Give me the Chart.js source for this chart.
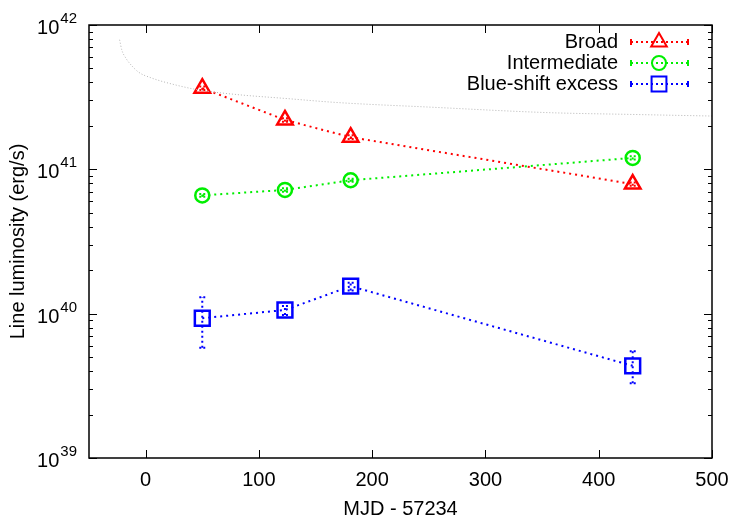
<!DOCTYPE html>
<html>
<head>
<meta charset="utf-8">
<script src="https://cdn.jsdelivr.net/npm/chart.js"></script>
<style>
  body { margin: 0; background: #fff; }
  canvas { display: block; }
</style>
</head>
<body>
<canvas id="lumChart" width="750" height="525"></canvas>
<script>
// Epochs (MJD - 57234)
const mjd = [50, 123, 181, 430];

// Line luminosities (erg/s) and error ranges
const broad = [3.65e41, 2.2e41, 1.67e41, 7.9e40];
const broadLo = [3.55e41, 2.14e41, 1.62e41, 7.7e40];
const broadHi = [3.75e41, 2.26e41, 1.72e41, 8.1e40];

const intermediate = [6.6e40, 7.2e40, 8.4e40, 1.2e41];
const interLo = [6.45e40, 7.0e40, 8.2e40, 1.17e41];
const interHi = [6.75e40, 7.4e40, 8.6e40, 1.23e41];

const blueShift = [9.3e39, 1.06e40, 1.55e40, 4.35e39];
const blueLo = [5.8e39, 9.8e39, 1.45e40, 3.3e39];
const blueHi = [1.3e40, 1.13e40, 1.64e40, 5.5e39];

// Grey dotted reference curve
const refX = [-23, -21, -17.5, -13, -6, 5, 26, 47, 80, 123, 170, 250, 356, 430, 500];
const refY = [7.9e41, 6.7e41, 5.9e41, 5.3e41, 4.7e41, 4.3e41, 3.85e41, 3.55e41, 3.3e41, 3.1e41, 2.9e41, 2.7e41, 2.47e41, 2.4e41, 2.34e41];

// Tick labels
const xTicks = [0, 100, 200, 300, 400, 500];
const yDecades = [39, 40, 41, 42];

const FONT = '"Liberation Sans", Arial, Helvetica, sans-serif';

function pts(xs, ys, lo, hi) {
    return xs.map((x, i) => ({ x: x, y: ys[i], lo: lo ? lo[i] : null, hi: hi ? hi[i] : null }));
}

// error bars + frame + labels + legend
const gnuplotLook = {
    id: 'gnuplotLook',
    beforeDatasetsDraw(chart) {
        const ctx = chart.ctx;
        const ys = chart.scales.y;
        const xs = chart.scales.x;
        ctx.save();
        chart.data.datasets.forEach(ds => {
            if (!ds.errorBars) return;
            ctx.strokeStyle = ds.borderColor;
            ctx.lineWidth = 2;
            ds.data.forEach(p => {
                const px = xs.getPixelForValue(p.x);
                const y1 = ys.getPixelForValue(p.lo);
                const y2 = ys.getPixelForValue(p.hi);
                ctx.setLineDash([2, 3]);
                ctx.beginPath();
                ctx.moveTo(px, y1);
                ctx.lineTo(px, y2);
                ctx.stroke();
                ctx.setLineDash([2, 2]);
                ctx.beginPath();
                ctx.moveTo(px - 3, y1); ctx.lineTo(px + 3, y1);
                ctx.moveTo(px - 3, y2); ctx.lineTo(px + 3, y2);
                ctx.stroke();
            });
        });
        ctx.restore();
    },
    afterDraw(chart) {
        const ctx = chart.ctx;
        const a = chart.chartArea;
        const xs = chart.scales.x;
        const ys = chart.scales.y;
        ctx.save();
        ctx.setLineDash([]);
        ctx.strokeStyle = '#000';

        // ticks (inward, both sides)
        ctx.lineWidth = 1;
        ctx.beginPath();
        xTicks.forEach(v => {
            const px = Math.round(xs.getPixelForValue(v)) + 0.5;
            ctx.moveTo(px, a.bottom); ctx.lineTo(px, a.bottom - 8);
            ctx.moveTo(px, a.top); ctx.lineTo(px, a.top + 8);
        });
        yDecades.forEach((d, i) => {
            const py = Math.round(ys.getPixelForValue(Math.pow(10, d))) + 0.5;
            ctx.moveTo(a.left, py); ctx.lineTo(a.left + 8, py);
            ctx.moveTo(a.right, py); ctx.lineTo(a.right - 8, py);
            if (i < yDecades.length - 1) {
                for (let m = 2; m <= 9; m++) {
                    const my = Math.round(ys.getPixelForValue(m * Math.pow(10, d))) + 0.5;
                    ctx.moveTo(a.left, my); ctx.lineTo(a.left + 4, my);
                    ctx.moveTo(a.right, my); ctx.lineTo(a.right - 4, my);
                }
            }
        });
        ctx.stroke();

        // frame
        ctx.lineWidth = 1.5;
        ctx.strokeRect(a.left, a.top, a.right - a.left, a.bottom - a.top);

        // x tick labels
        ctx.fillStyle = '#000';
        ctx.font = '20px ' + FONT;
        ctx.textAlign = 'center';
        ctx.textBaseline = 'middle';
        xTicks.forEach(v => {
            ctx.fillText(String(v), xs.getPixelForValue(v), a.bottom + 22);
        });

        // y tick labels 10^n
        yDecades.forEach(d => {
            const py = ys.getPixelForValue(Math.pow(10, d));
            ctx.font = '15px ' + FONT;
            const ew = ctx.measureText(String(d)).width;
            ctx.textAlign = 'right';
            ctx.textBaseline = 'alphabetic';
            ctx.fillText(String(d), 77, py - 2);
            ctx.font = '20px ' + FONT;
            ctx.fillText('10', 77 - ew - 1, py + 9);
        });

        // axis titles
        ctx.font = '20px ' + FONT;
        ctx.textAlign = 'center';
        ctx.textBaseline = 'middle';
        ctx.fillText('MJD - 57234', (a.left + a.right) / 2, 509);
        ctx.save();
        ctx.translate(18, (a.top + a.bottom) / 2);
        ctx.rotate(-Math.PI / 2);
        ctx.fillText('Line luminosity (erg/s)', 0, 0);
        ctx.restore();

        // legend
        const rows = chart.data.datasets.filter(ds => ds.inLegend);
        rows.forEach((ds, i) => {
            const ly = 42 + i * 21;
            ctx.font = '20px ' + FONT;
            ctx.fillStyle = '#000';
            ctx.textAlign = 'right';
            ctx.textBaseline = 'middle';
            ctx.fillText(ds.label, 618, ly);
            ctx.strokeStyle = ds.borderColor;
            ctx.lineWidth = 2;
            ctx.setLineDash([2, 3]);
            ctx.beginPath();
            ctx.moveTo(631, ly); ctx.lineTo(688, ly);
            ctx.stroke();
            ctx.setLineDash([]);
            ctx.beginPath();
            ctx.moveTo(631, ly - 3); ctx.lineTo(631, ly + 3);
            ctx.moveTo(688, ly - 3); ctx.lineTo(688, ly + 3);
            ctx.stroke();
            ctx.fillStyle = 'rgba(0,0,0,0)';
            Chart.helpers.drawPoint(ctx, {
                pointStyle: ds.pointStyle,
                radius: ds.pointRadius,
                rotation: 0,
                borderWidth: ds.pointBorderWidth
            }, 659, ly);
        });
        ctx.restore();
    }
};

const ctx = document.getElementById('lumChart').getContext('2d');
new Chart(ctx, {
    type: 'line',
    data: {
        datasets: [
            {
                label: 'reference',
                data: pts(refX, refY),
                borderColor: '#b4b4b4',
                borderWidth: 1,
                borderDash: [1, 2],
                pointRadius: 0,
                tension: 0.4,
                cubicInterpolationMode: 'monotone',
                fill: false
            },
            {
                label: 'Broad',
                data: pts(mjd, broad, broadLo, broadHi),
                borderColor: '#ff0000',
                backgroundColor: 'rgba(0,0,0,0)',
                borderWidth: 2,
                borderDash: [2, 4],
                pointStyle: 'triangle',
                pointRadius: 9,
                pointBorderWidth: 2.5,
                pointBackgroundColor: 'rgba(0,0,0,0)',
                errorBars: true,
                inLegend: true
            },
            {
                label: 'Intermediate',
                data: pts(mjd, intermediate, interLo, interHi),
                borderColor: '#00ee00',
                backgroundColor: 'rgba(0,0,0,0)',
                borderWidth: 2,
                borderDash: [2, 4],
                pointStyle: 'circle',
                pointRadius: 7,
                pointBorderWidth: 2.5,
                pointBackgroundColor: 'rgba(0,0,0,0)',
                errorBars: true,
                inLegend: true
            },
            {
                label: 'Blue-shift excess',
                data: pts(mjd, blueShift, blueLo, blueHi),
                borderColor: '#0000ff',
                backgroundColor: 'rgba(0,0,0,0)',
                borderWidth: 2,
                borderDash: [2, 4],
                pointStyle: 'rect',
                pointRadius: 10.5,
                pointBorderWidth: 2.5,
                pointBackgroundColor: 'rgba(0,0,0,0)',
                errorBars: true,
                inLegend: true
            }
        ]
    },
    options: {
        responsive: false,
        animation: false,
        devicePixelRatio: 1,
        layout: { padding: { left: 89, right: 38, top: 25, bottom: 67 } },
        plugins: { legend: { display: false }, tooltip: { enabled: false } },
        scales: {
            x: { type: 'linear', min: -50, max: 500, display: false },
            y: { type: 'logarithmic', min: 1e39, max: 1e42, display: false }
        }
    },
    plugins: [gnuplotLook]
});
</script>
</body>
</html>
